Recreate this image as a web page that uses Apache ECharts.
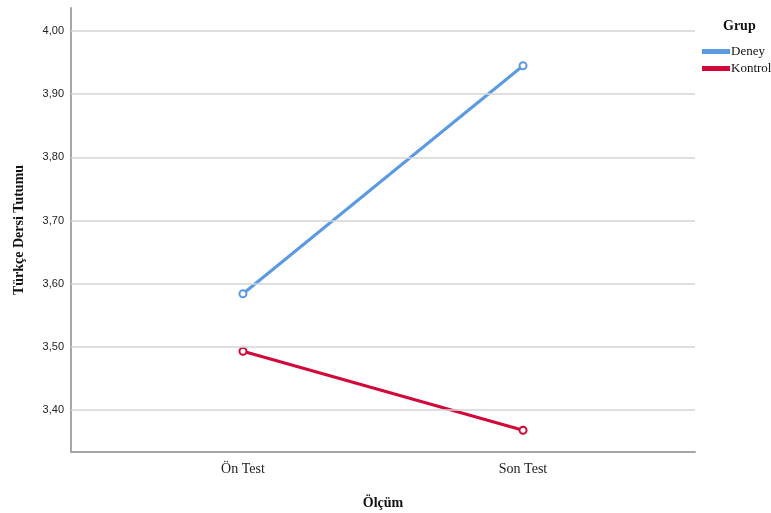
<!DOCTYPE html>
<html><head><meta charset="utf-8">
<script src="https://cdn.jsdelivr.net/npm/echarts@6/dist/echarts.min.js"></script>
<style>html,body{margin:0;padding:0;background:#fff}#c{width:771px;height:513px}</style>
</head><body><div id="c"></div>
<script>
const categories = ['Ön Test', 'Son Test'];
const groups = ['Deney', 'Kontrol'];
const deney = [3.584, 3.945];
const kontrol = [3.493, 3.368];
const yTicks = [3.4, 3.5, 3.6, 3.7, 3.8, 3.9, 4.0];
const colors = ['#5A9AE2', '#D3083A'];
const serif = '"Liberation Serif","DejaVu Serif",serif';
const sans = '"Liberation Sans",Arial,sans-serif';

const chart = echarts.init(document.getElementById('c'), null, {renderer: 'canvas'});
function mk(name, vals, color) {
  return {
    name: name, type: 'line',
    data: vals.map((v, i) => [i, v]),
    symbol: 'emptyCircle', symbolSize: 7, showSymbol: true,
    lineStyle: {color: color, width: 3},
    itemStyle: {color: color, borderColor: color, borderWidth: 1.2},
    z: 3, animation: false
  };
}
chart.setOption({
  animation: false,
  title: {text: 'Grup', left: 718, top: 14, textStyle: {fontFamily: serif, fontWeight: 'bold', fontSize: 14, color: '#111'}},
  legend: {
    orient: 'vertical', left: 697, top: 40, itemWidth: 26, itemHeight: 3, itemGap: 4,
    icon: 'rect', data: groups,
    textStyle: {fontFamily: serif, fontSize: 13, color: '#111', padding: [0, 0, 0, -3]}
  },
  grid: {left: 71, right: 76, top: 8, bottom: 61, containLabel: false, outerBoundsMode: 'none'},
  xAxis: {
    type: 'value', min: -0.614, max: 1.614,
    name: 'Ölçüm', nameLocation: 'middle', nameGap: 44,
    nameTextStyle: {fontFamily: serif, fontWeight: 'bold', fontSize: 14, color: '#111'},
    axisLine: {show: true, onZero: false, lineStyle: {color: '#a6a6a6', width: 2}},
    axisTick: {show: false},
    splitLine: {show: false},
    axisLabel: {customValues: [0, 1], formatter: v => categories[Math.round(v)], fontFamily: serif, fontSize: 14, color: '#222', margin: 10}
  },
  yAxis: {
    type: 'value', min: 3.3335, max: 4.0364,
    name: 'Türkçe Dersi Tutumu', nameLocation: 'middle', nameGap: 45, nameRotate: 90,
    nameTextStyle: {fontFamily: serif, fontWeight: 'bold', fontSize: 14, color: '#111'},
    axisLine: {show: true, onZero: false, lineStyle: {color: '#a6a6a6', width: 2}},
    axisTick: {show: false},
    splitLine: {show: false},
    axisLabel: {customValues: yTicks, formatter: v => v.toFixed(2).replace('.', ','), fontFamily: sans, fontSize: 11, color: '#222', margin: 7}
  },
  series: [
    {
      type: 'line', data: [], silent: true, z: 1,
      markLine: {
        silent: true, symbol: 'none', animation: false,
        label: {show: false},
        lineStyle: {color: '#d4d4d4', width: 1.5, type: 'solid'},
        data: yTicks.map(v => ({yAxis: v}))
      }
    },
    mk(groups[0], deney, colors[0]),
    mk(groups[1], kontrol, colors[1])
  ]
});
</script></body></html>
